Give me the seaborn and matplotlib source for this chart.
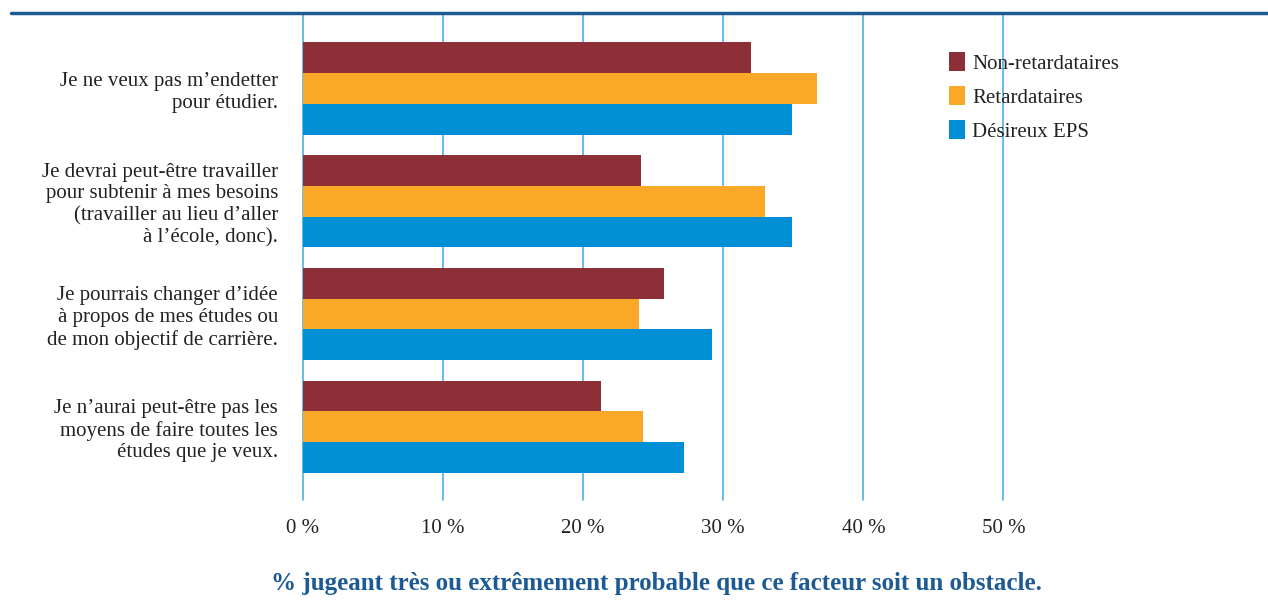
import pandas as pd
import matplotlib.pyplot as plt
import seaborn as sns
from matplotlib.lines import Line2D

# Données
facteurs = [
    "Je ne veux pas m\u2019endetter\npour étudier.",
    "Je devrai peut-être travailler\npour subtenir à mes besoins\n(travailler au lieu d\u2019aller\nà l\u2019école, donc).",
    "Je pourrais changer d\u2019idée\nà propos de mes études ou\nde mon objectif de carrière.",
    "Je n\u2019aurai peut-être pas les\nmoyens de faire toutes les\nétudes que je veux.",
]
groupes = ["Non-retardataires", "Retardataires", "Désireux EPS"]
non_retardataires = [32.0, 24.1, 25.8, 21.3]
retardataires = [36.7, 33.0, 24.0, 24.3]
desireux_eps = [34.9, 34.9, 29.2, 27.2]
ticks = [0, 10, 20, 30, 40, 50]
tick_labels = ["0 %", "10 %", "20 %", "30 %", "40 %", "50 %"]

couleurs = ["#8c2f36", "#f9a828", "#008fd5"]
bleu_fonce = "#1d5a94"
bleu_grille = "#5ab6e2"

rows = []
for nom, vals in zip(groupes, [non_retardataires, retardataires, desireux_eps]):
    for f, v in zip(facteurs, vals):
        rows.append({"facteur": f, "groupe": nom, "valeur": v})
df = pd.DataFrame(rows)

sns.set_style("white")
plt.rcParams["font.family"] = ["Liberation Serif", "DejaVu Serif"]

fig = plt.figure(figsize=(12.68, 6), dpi=100)
ax = fig.add_axes([303 / 1268, 1 - 500 / 600, 965 / 1268, 487 / 600])

sns.barplot(data=df, x="valeur", y="facteur", hue="groupe", orient="h",
            palette=couleurs, width=0.82, saturation=1, linewidth=0,
            ax=ax, zorder=3)

ax.set_xlim(0, 965 / 14.01)
ax.set_ylim(3.65, -0.67)
ax.set_xticks(ticks)
ax.set_xticklabels(tick_labels, fontsize=15, color="#222222")
for t in ticks:
    ax.axvline(t, color=bleu_grille, lw=1.3, zorder=1, clip_on=False)
for s in ax.spines.values():
    s.set_visible(False)
ax.tick_params(axis="both", length=0)
ax.tick_params(axis="x", pad=14)
ax.tick_params(axis="y", pad=18)
for lab in ax.get_yticklabels():
    lab.set_fontsize(15)
    lab.set_color("#222222")
    lab.set_linespacing(1.2)
    lab.set_ha("right")

ax.set_ylabel("")
ax.set_xlabel("% jugeant très ou extrêmement probable que ce facteur soit un obstacle.",
              fontsize=18, fontweight="bold", color=bleu_fonce)
ax.xaxis.set_label_coords((656 - 303) / 965, -0.172)
ax.xaxis.label.set_va("center")

# ligne du haut
fig.add_artist(Line2D([11 / 1268, 1], [1 - 13 / 600, 1 - 13 / 600],
                      color=bleu_fonce, lw=2.5))

leg = ax.legend(loc="upper left", bbox_to_anchor=(939 / 1268, 1 - 42 / 600),
                bbox_transform=fig.transFigure, frameon=False, fontsize=15,
                handlelength=0.75, handleheight=1.0, handletextpad=0.35,
                labelspacing=0.6, borderpad=0, labelcolor="#222222")

plt.savefig("out.png", dpi=100)
